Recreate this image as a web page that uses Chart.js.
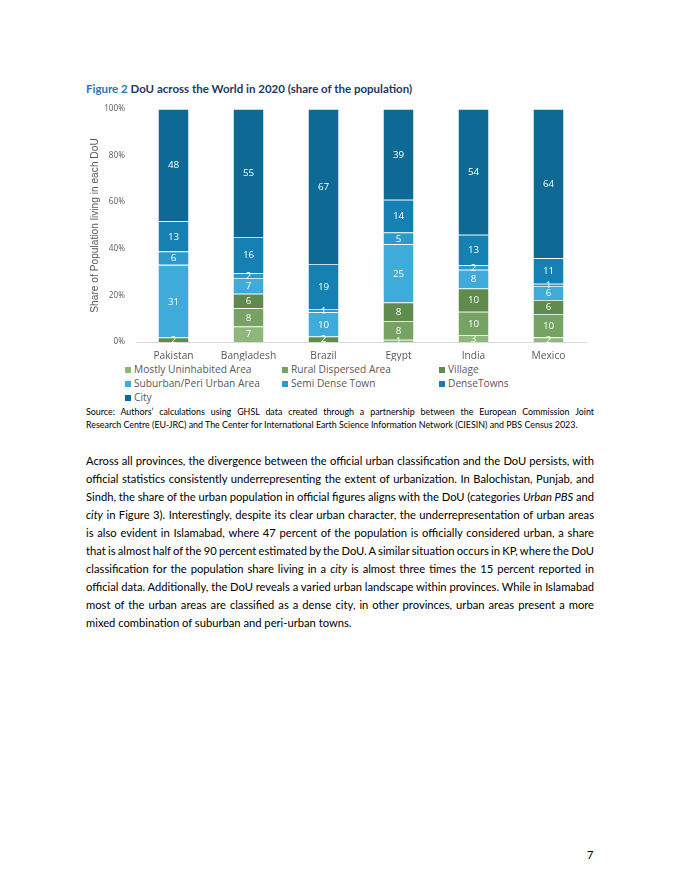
<!DOCTYPE html>
<html>
<head>
<meta charset="utf-8">
<script src="https://cdn.jsdelivr.net/npm/chart.js@4.4.1/dist/chart.umd.min.js"></script>
<style>
  body { margin: 0; background: #fff; width: 680px; height: 880px; position: relative; overflow: hidden; }
  .abs { position: absolute; }
  #title { left: 86px; top: 82px; font-family: Lato, sans-serif; font-weight: bold; font-size: 11.5px; color: #1f3864; white-space: nowrap; }
  #title span { color: #2e74b5; }
  #chartBox { left: 80px; top: 101px; width: 520px; height: 260px; }
  #legend { left: 125px; top: 362px; width: 480px; font-family: "Open Sans", sans-serif; font-size: 10.2px; color: #595959; }
  .lg { position: absolute; white-space: nowrap; }
  .lg i { display: inline-block; width: 6px; height: 6px; margin-right: 3px; vertical-align: 0px; }
  #source { left: 86px; top: 406px; width: 508px; font-family: Lato, sans-serif; font-size: 8.9px; color: #000; line-height: 12.5px; }
  #body { left: 86px; top: 452px; width: 508px; font-family: Lato, sans-serif; font-size: 11.2px; color: #000; line-height: 18px; }
  .jl, .ll { white-space: nowrap; }
  #page { left: 587px; top: 848px; font-family: Lato, sans-serif; font-size: 11px; }
</style>
</head>
<body>
<div id="title" class="abs"><span>Figure 2</span> DoU across the World in 2020 (share of the population)</div>
<div id="chartBox" class="abs"><canvas id="myChart"></canvas></div>
<div id="legend" class="abs"></div>
<div id="source" class="abs">
  <div class="jl"><span>Source: Authors’ calculations using GHSL data created through a partnership between the European Commission Joint</span></div>
  <div class="ll"><span>Research Centre (EU-JRC) and The Center for International Earth Science Information Network (CIESIN) and PBS Census 2023.</span></div>
</div>
<div id="body" class="abs">
  <div class="jl"><span>Across all provinces, the divergence between the official urban classification and the DoU persists, with</span></div>
  <div class="jl"><span>official statistics consistently underrepresenting the extent of urbanization. In Balochistan, Punjab, and</span></div>
  <div class="jl"><span>Sindh, the share of the urban population in official figures aligns with the DoU (categories <i>Urban PBS</i> and</span></div>
  <div class="jl"><span><i>city</i> in Figure 3). Interestingly, despite its clear urban character, the underrepresentation of urban areas</span></div>
  <div class="jl"><span>is also evident in Islamabad, where 47 percent of the population is officially considered urban, a share</span></div>
  <div class="jl"><span>that is almost half of the 90 percent estimated by the DoU. A similar situation occurs in KP, where the DoU</span></div>
  <div class="jl"><span>classification for the population share living in a <i>city</i> is almost three times the 15 percent reported in</span></div>
  <div class="jl"><span>official data. Additionally, the DoU reveals a varied urban landscape within provinces. While in Islamabad</span></div>
  <div class="jl"><span>most of the urban areas are classified as a dense city, in other provinces, urban areas present a more</span></div>
  <div class="ll"><span>mixed combination of suburban and peri-urban towns.</span></div>
</div>
<div id="page" class="abs">7</div>
<script>
// data (share of population, %); labels show rounded values
var countries = ['Pakistan', 'Bangladesh', 'Brazil', 'Egypt', 'India', 'Mexico'];
var mostlyUninhabited = [0, 6.7, 0, 1, 3, 2];
var ruralDispersed = [0, 7.8, 0, 8, 10, 10];
var village = [1.9, 6.2, 2.4, 8, 10, 6];
var suburban = [31.2, 6.8, 10.4, 25, 8, 6];
var semiDense = [5.8, 2.0, 1.4, 5, 2, 1];
var denseTowns = [12.9, 15.6, 19.3, 14, 13, 11];
var city = [48.2, 54.9, 66.5, 39, 54, 64];
var yTicks = [0, 20, 40, 60, 80, 100];

var seriesNames = ['Mostly Uninhabited Area', 'Rural Dispersed Area', 'Village',
  'Suburban/Peri Urban Area', 'Semi Dense Town', 'DenseTowns', 'City'];
var seriesValues = [mostlyUninhabited, ruralDispersed, village, suburban, semiDense, denseTowns, city];
var seriesColors = ['#8fb77c', '#76a263', '#5f8b4c', '#3eabdb', '#2c99cb', '#1580b2', '#0e6994'];

var datasets = seriesNames.map(function (name, i) {
  return {
    label: name,
    data: seriesValues[i],
    backgroundColor: seriesColors[i],
    borderColor: 'rgba(255,255,255,0.85)',
    borderWidth: { top: 0.8, bottom: 0, left: 0, right: 0 },
    borderSkipped: false,
    barPercentage: 0.4,
    categoryPercentage: 1.0
  };
});

// white value labels in the middle of each segment
var segmentLabels = {
  id: 'segmentLabels',
  afterDatasetsDraw: function (chart) {
    var ctx = chart.ctx;
    ctx.save();
    ctx.fillStyle = '#ffffff';
    ctx.font = '9.8px "Open Sans", sans-serif';
    ctx.textAlign = 'center';
    ctx.textBaseline = 'middle';
    chart.data.datasets.forEach(function (ds, di) {
      var meta = chart.getDatasetMeta(di);
      meta.data.forEach(function (bar, j) {
        var v = ds.data[j];
        if (!v) return;
        ctx.fillText(String(Math.round(v)), bar.x, (bar.y + bar.base) / 2 + 0.5);
      });
    });
    ctx.restore();
  }
};

var ctx = document.getElementById('myChart').getContext('2d');
var myChart = new Chart(ctx, {
  type: 'bar',
  data: { labels: countries, datasets: datasets },
  options: {
    responsive: true,
    maintainAspectRatio: false,
    animation: false,
    layout: { padding: { top: 0, right: 14, left: 0, bottom: 0 } },
    plugins: {
      legend: { display: false },
      tooltip: { enabled: false }
    },
    scales: {
      x: {
        stacked: true,
        grid: { display: false },
        border: { display: true, color: '#d9d9d9' },
        ticks: { color: '#595959', font: { family: 'Open Sans', size: 10.2 }, padding: 0, maxRotation: 0 },
        afterFit: function (s) { s.height = 19; }
      },
      y: {
        stacked: true,
        min: 0,
        max: 100,
        afterBuildTicks: function (s) { s.ticks = yTicks.map(function (v) { return { value: v }; }); },
        grid: { display: false },
        border: { display: false },
        ticks: {
          color: '#595959',
          font: { family: 'Open Sans', size: 8.2 },
          padding: 3,
          callback: function (v) { return v + '%'; }
        },
        title: {
          display: true,
          text: 'Share of Population living in each DoU',
          color: '#595959',
          font: { family: 'Liberation Sans', size: 10.2 },
          padding: { top: 9, bottom: 0 }
        },
        afterFit: function (s) { s.width = 56; }
      }
    }
  },
  plugins: [segmentLabels]
});

// legend in three columns, built from the series arrays
var legend = document.getElementById('legend');
var colX = [0, 157, 314];
var rowY = [0, 14, 28];
seriesNames.forEach(function (name, i) {
  var el = document.createElement('div');
  el.className = 'lg';
  el.style.left = colX[i % 3] + 'px';
  el.style.top = rowY[Math.floor(i / 3)] + 'px';
  el.innerHTML = '<i style="background:' + seriesColors[i] + '"></i>' + name;
  legend.appendChild(el);
});

// justify each text line to the column width by adjusting word spacing
document.querySelectorAll('.jl').forEach(function (line) {
  var span = line.firstElementChild;
  var full = line.parentNode.clientWidth;
  var gaps = (span.textContent.match(/ /g) || []).length;
  var w = span.getBoundingClientRect().width;
  if (gaps > 0) line.style.wordSpacing = ((full - w) / gaps) + 'px';
});
</script>
</body>
</html>
